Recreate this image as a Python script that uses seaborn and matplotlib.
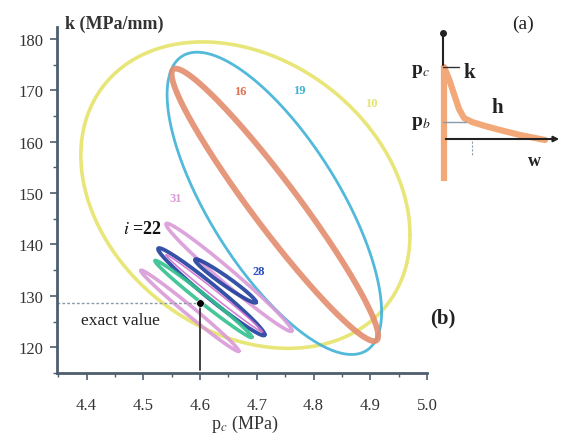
import numpy as np
import pandas as pd
import matplotlib
matplotlib.use("Agg")
import matplotlib.pyplot as plt
import seaborn as sns

sns.set_theme(style="white")
plt.rcParams['font.family'] = ['Liberation Serif', 'DejaVu Serif']
plt.rcParams['mathtext.fontset'] = 'stix'

# ---- data: confidence ellipses (center, half-ranges, correlation) ----
ell_names = ["10", "19", "16", "31", "22", "22b", "28", "green", "lower"]
ell_cx    = [4.680, 4.731, 4.732, 4.651, 4.620, 4.625, 4.645, 4.606, 4.582]
ell_cy    = [149.6, 148.0, 147.7, 133.6, 130.8, 130.5, 132.9, 129.4, 127.1]
ell_ax    = [0.290, 0.189, 0.182, 0.111, 0.094, 0.085, 0.054, 0.0855, 0.0865]
ell_by    = [29.8, 29.4, 26.5, 10.5, 8.5, 7.5, 4.25, 7.5, 7.9]
ell_rho   = [-0.26, -0.72, -0.96, -0.985, -0.98, -0.995, -0.97, -0.99, -0.99]
ell_color = ["#e6e46a", "#3fb2d6", "#e38d6e", "#d99ad8", "#1f3f9e", "#d070d0",
             "#1f3f9e", "#33c08e", "#d99ad8"]
ell_lw    = [2.6, 2.0, 4.2, 2.6, 2.8, 1.2, 2.8, 2.6, 2.6]

exact_p = 4.6
exact_k = 128.7

x_ticks = [4.4, 4.5, 4.6, 4.7, 4.8, 4.9, 5.0]
y_ticks = [120, 130, 140, 150, 160, 170, 180]

labels_txt = ["10", "16", "19", "31", "28"]
labels_x   = [4.902, 4.671, 4.775, 4.558, 4.704]
labels_y   = [167.6, 169.8, 170.0, 149.1, 134.8]
labels_col = ["#e6e46a", "#e07050", "#3fb2d6", "#d99ad8", "#2a4fc0"]

# inset schematic (pixel-like coordinates of inset panel)
inset_w = [444, 449, 454, 459, 464, 472, 485, 500, 520, 545]
inset_p = [68, 80, 95, 110, 119, 123, 127, 131, 136, 141]

fig = plt.figure(figsize=(5.68, 4.39), dpi=100)
ax = fig.add_axes([57/568, 1-374/439, 370/568, 346/439])

t = np.linspace(0, 2*np.pi, 400)
for i in range(len(ell_names)):
    phi = np.arccos(ell_rho[i])
    xs = ell_cx[i] + ell_ax[i]*np.cos(t)
    ys = ell_cy[i] + ell_by[i]*np.cos(t + phi)
    sns.lineplot(x=xs, y=ys, sort=False, estimator=None, color=ell_color[i],
                 lw=ell_lw[i], ax=ax, alpha=0.9)

# exact value
ax.plot([4.348, exact_p], [exact_k, exact_k], ls=(0, (2, 1.5)), color="#8a9aa8", lw=1.0)
ax.plot([exact_p, exact_p], [115.5, exact_k], color="#333333", lw=1.3)
sns.scatterplot(x=[exact_p], y=[exact_k], color="black", s=30, ax=ax, zorder=5)
ax.text(4.459, 125.4, "exact value", fontsize=12.5, ha="center", va="center", color="#222222")
ax.text(4.498, 143.1, r"$i$ =22", fontsize=13, ha="center", va="center",
        color="#111111", fontweight="bold")
for s, x, y, c in zip(labels_txt, labels_x, labels_y, labels_col):
    ax.text(x, y, s, fontsize=9, ha="center", va="center", color=c, fontweight="bold")
ax.text(5.027, 125.8, "(b)", fontsize=15, ha="center", va="center",
        color="#222222", fontweight="bold", clip_on=False)

ax.set_xlim(4.348, 5.0)
ax.set_ylim(115.5, 182.3)
ax.set_xticks(x_ticks)
ax.set_xticklabels([f"{v:.1f}" for v in x_ticks])
ax.set_yticks(y_ticks)
ax.set_yticklabels([str(v) for v in y_ticks])
ax.set_xticks(np.arange(4.35, 5.0, 0.1), minor=True)
ax.set_yticks(np.arange(115, 182, 10), minor=True)
for sp in ["top", "right"]:
    ax.spines[sp].set_visible(False)
for sp in ["left", "bottom"]:
    ax.spines[sp].set_color("#4e5e6e")
    ax.spines[sp].set_linewidth(2.0)
ax.tick_params(axis="both", which="major", direction="out", length=5, width=1.2,
               color="#4e5e6e", labelsize=12, labelcolor="#333333",
               bottom=True, left=True)
ax.tick_params(axis="both", which="minor", direction="out", length=3, width=1.0,
               color="#4e5e6e", bottom=True, left=True)
ax.tick_params(axis="x", which="major", pad=12)
ax.tick_params(axis="y", which="major", pad=5)
ax.set_facecolor("white")
ax.text(0.154, 1.012, "k (MPa/mm)", transform=ax.transAxes, fontsize=13,
        ha="center", va="center", fontweight="bold", color="#333333")
ax.text(0.508, -0.147, r"p$_c$ (MPa)", transform=ax.transAxes, fontsize=13,
        ha="center", va="center", color="#333333")

# inset (a)
axi = fig.add_axes([400/568, 1-200/439, 168/568, 200/439])
axi.set_xlim(400, 568)
axi.set_ylim(200, 0)
axi.axis("off")
axi.plot([444, 444], [67, 182], color="#f2a878", lw=4.5, solid_capstyle="butt")
sns.lineplot(x=inset_w, y=inset_p, sort=False, estimator=None, color="#f2a878",
             lw=4.5, ax=axi)
axi.plot([443, 443], [34, 66], color="#222222", lw=1.5)
axi.plot([443], [34], "o", color="#222222", ms=4)
axi.annotate("", xy=(562, 140), xytext=(443, 140),
             arrowprops=dict(arrowstyle="-|>", color="#222222", lw=1.5, mutation_scale=8))
axi.plot([443, 459], [68, 68], color="#333333", lw=1.0)
axi.plot([443, 466], [123, 123], color="#8a9aa8", lw=1.0)
axi.plot([472, 472], [142, 156], color="#8a9aa8", lw=0.8, ls=(0, (2, 1.5)))
axi.text(420, 72, r"p$_c$", fontsize=14, ha="center", va="center", fontweight="bold", color="#222222")
axi.text(421, 124, r"p$_b$", fontsize=14, ha="center", va="center", fontweight="bold", color="#222222")
axi.text(469, 73, "k", fontsize=15, ha="center", va="center", fontweight="bold", color="#222222")
axi.text(497, 108, "h", fontsize=15, ha="center", va="center", fontweight="bold", color="#222222")
axi.text(534, 162, "w", fontsize=13, ha="center", va="center", fontweight="bold", color="#222222")
axi.text(523, 24, "(a)", fontsize=14, ha="center", va="center", color="#222222")

fig.savefig("out.png", dpi=100, facecolor="white")
